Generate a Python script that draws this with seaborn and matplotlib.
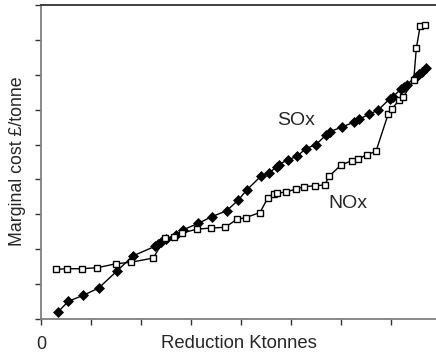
import matplotlib
matplotlib.use("Agg")
import matplotlib.pyplot as plt
import seaborn as sns
import pandas as pd

sox_x = [0.334, 0.546, 0.846, 1.154, 1.526, 1.834, 2.28, 2.336, 2.40, 2.50, 2.69, 2.844,
         3.146, 3.414, 3.714, 3.946, 4.114, 4.40, 4.56, 4.71, 4.75, 4.93, 5.12, 5.29, 5.50,
         5.70, 5.78, 6.02, 6.26, 6.36, 6.56, 6.744, 6.98, 7.04, 7.20, 7.26, 7.314, 7.49,
         7.55, 7.614, 7.70]
sox_y = [0.192, 0.507, 0.679, 0.888, 1.384, 1.805, 2.083, 2.158, 2.198, 2.292, 2.415, 2.559,
         2.742, 2.931, 3.103, 3.410, 3.696, 4.097, 4.175, 4.370, 4.427, 4.556, 4.662, 4.877,
         5.0, 5.272, 5.372, 5.501, 5.645, 5.725, 5.868, 5.989, 6.318, 6.375, 6.590, 6.662,
         6.705, 6.948, 7.020, 7.092, 7.201]

nox_x = [0.30, 0.52, 0.814, 1.126, 1.506, 1.794, 2.246, 2.48, 2.66, 2.814, 3.114, 3.394,
         3.68, 3.92, 4.10, 4.38, 4.534, 4.66, 4.726, 4.90, 5.10, 5.26, 5.474, 5.674, 5.766,
         6.00, 6.226, 6.33, 6.514, 6.70, 6.946, 7.01, 7.16, 7.244, 7.454, 7.506, 7.584, 7.68]
nox_y = [1.424, 1.441, 1.441, 1.470, 1.585, 1.625, 1.748, 2.321, 2.350, 2.464, 2.573, 2.607,
         2.628, 2.857, 2.908, 3.052, 3.467, 3.582, 3.610, 3.639, 3.725, 3.791, 3.819, 3.840,
         4.097, 4.413, 4.542, 4.576, 4.708, 4.808, 5.883, 6.011, 6.267, 6.355, 6.848, 7.756,
         8.401, 8.418]

x_ticks = [0, 1, 2, 3, 4, 5, 6, 7]
x_tick_labels = ["0", "", "", "", "", "", "", ""]
y_ticks = [0, 1, 2, 3, 4, 5, 6, 7, 8, 9]

sox = pd.DataFrame({"x": sox_x, "y": sox_y})
nox = pd.DataFrame({"x": nox_x, "y": nox_y})

sns.set_style("white")
plt.rcParams["font.family"] = ["Liberation Sans", "DejaVu Sans"]

fig = plt.figure(figsize=(4.36, 3.54), dpi=100)
ax = fig.add_axes([41 / 436, 35 / 354, 395 / 436, 314 / 354])

sns.lineplot(data=sox, x="x", y="y", ax=ax, sort=False, color="black", lw=1.0,
             marker="D", markersize=5, markerfacecolor="black",
             markeredgecolor="black", markeredgewidth=0.5)
sns.lineplot(data=nox, x="x", y="y", ax=ax, sort=False, color="black", lw=1.0,
             marker="s", markersize=5, markerfacecolor="white",
             markeredgecolor="black", markeredgewidth=1.0)

ax.set_xlim(0, 7.9)
ax.set_ylim(0, 9)
ax.set_xticks(x_ticks)
ax.set_xticklabels(x_tick_labels, fontsize=13)
ax.set_yticks(y_ticks)
ax.set_yticklabels([])
ax.tick_params(axis="both", direction="out", length=4, width=1, color="#333333",
               bottom=True, left=True, pad=8)
ax.set_xlabel("")
ax.set_ylabel("")

fig.text(239 / 436, 1 - 344 / 354, "Reduction Ktonnes", fontsize=13.3,
         ha="center", va="center")
fig.text(18 / 436, 1 - 161 / 354, "Marginal cost £/tonne", fontsize=12.8,
         ha="center", va="center", rotation=90)

for s in ["left", "bottom"]:
    ax.spines[s].set_color("#808080")
    ax.spines[s].set_linewidth(1.3)
ax.spines["top"].set_color("#333333")
ax.spines["top"].set_linewidth(1.3)
ax.spines["right"].set_visible(False)

ax.text(5.1, 5.70, "SOx", fontsize=14, ha="center", va="center")
ax.text(6.13, 3.32, "NOx", fontsize=14, ha="center", va="center")

fig.savefig("out.png", dpi=100)
